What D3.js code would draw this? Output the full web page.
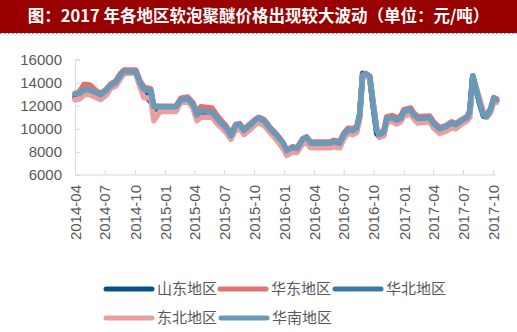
<!DOCTYPE html>
<html><head><meta charset="utf-8">
<script src="https://cdn.jsdelivr.net/npm/d3@7/dist/d3.min.js"></script>
<style>
html,body{margin:0;padding:0;background:#fff;}
svg{display:block;}
</style></head>
<body>
<svg id="chart" width="517" height="332"></svg>
<script>
const titleText = "图：2017 年各地区软泡聚醚价格出现较大波动（单位：元/吨）";
const dates = ["2014-04-01","2014-04-16","2014-04-29","2014-05-17","2014-06-04","2014-06-19","2014-07-05","2014-07-20","2014-08-04","2014-08-17","2014-08-29","2014-10-04","2014-10-17","2014-10-29","2014-11-19","2014-11-28","2014-12-17","2015-02-04","2015-02-19","2015-03-12","2015-03-28","2015-04-09","2015-04-21","2015-05-25","2015-06-15","2015-07-07","2015-07-22","2015-08-06","2015-08-18","2015-08-31","2015-09-18","2015-10-06","2015-10-16","2015-10-31","2015-11-18","2015-12-10","2015-12-28","2016-01-09","2016-01-27","2016-02-09","2016-02-27","2016-03-10","2016-03-22","2016-05-20","2016-06-01","2016-06-19","2016-07-01","2016-07-14","2016-07-29","2016-08-10","2016-08-19","2016-08-28","2016-09-07","2016-09-19","2016-09-28","2016-10-10","2016-10-19","2016-11-01","2016-11-10","2016-11-28","2016-12-10","2016-12-23","2017-01-01","2017-01-22","2017-01-31","2017-02-13","2017-03-21","2017-04-02","2017-04-21","2017-05-12","2017-05-27","2017-06-09","2017-06-27","2017-07-15","2017-07-22","2017-07-31","2017-08-12","2017-08-21","2017-09-02","2017-09-12","2017-09-24","2017-10-03","2017-10-12"];

const seriesNames = ["山东地区","华东地区","华北地区","东北地区","华南地区"];
const shandong = [12700,12850,13250,13200,13000,12750,13150,13650,13850,14500,14850,14850,13800,13100,12300,11700,11750,11750,12400,12500,11950,11050,11450,11300,10550,9950,9150,10150,10200,9700,10150,10650,10750,10550,9900,9200,8600,7900,8250,8150,8950,9100,8600,8650,8800,8650,9400,9800,9750,9950,11100,14800,14700,14400,12200,9600,9300,9500,10800,10850,10600,10800,11400,11550,11100,10800,10850,10350,9900,10100,10400,10250,10600,10900,11400,14500,13200,12200,11100,11000,11600,12500,12400];
const huadong = [12800,13300,13850,13800,13300,13050,13400,13900,14150,14750,15100,15100,14150,13600,13450,12000,11950,11950,12650,12750,12250,11450,11900,11800,10950,10250,9600,10400,10450,9950,10400,10850,11000,10800,10150,9500,8850,8150,8450,8350,9150,9300,8850,8850,9000,8900,9600,10050,10000,10200,11300,14700,14800,14550,12500,10000,9600,9850,11050,11150,10950,11100,11650,11800,11400,11050,11100,10600,10100,10300,10600,10450,10800,11100,11600,14600,13400,12400,11300,11200,11800,12700,12600];
const huabei = [13000,13050,13350,13300,13100,12900,13250,13750,13950,14550,14900,14900,13950,13350,13250,11850,11850,11850,12450,12550,12050,11150,11550,11350,10650,10050,9350,10250,10300,9800,10250,10750,10850,10650,10000,9350,8750,8050,8350,8250,9050,9200,8700,8700,8850,8700,9450,9850,9800,10000,11150,14550,14700,14450,12350,9850,9450,9650,10850,10900,10700,10850,11450,11600,11150,10850,10900,10400,9950,10150,10450,10300,10650,10950,11450,14550,13250,12250,11150,11050,11650,12550,12450];
const dongbei = [12500,12600,13000,12950,12700,12550,12900,13500,13700,14300,14800,14800,13600,12700,12650,10700,11500,11500,12300,12400,11800,10700,11000,11000,10300,9700,9100,9900,10000,9500,9900,10400,10500,10300,9700,9000,8300,7700,8000,7950,8700,8800,8350,8350,8450,8350,9100,9600,9500,9700,10800,14500,14700,14300,12600,10100,9300,9400,10600,10600,10400,10600,11100,11300,10900,10500,10600,10100,9600,9800,10100,10000,10400,10700,11000,14000,13400,12600,11400,11000,11400,12300,12300];
const huanan = [13050,13100,13400,13350,13150,12950,13300,13800,14000,14600,14950,14950,14000,13400,13300,11900,11900,11900,12500,12600,12100,11200,11600,11400,10700,10100,9400,10300,10350,9850,10300,10800,10900,10700,10050,9400,8800,8100,8400,8300,9100,9250,8750,8750,8900,8750,9500,9900,9850,10050,11200,14600,14750,14500,12400,9900,9500,9700,10900,10950,10750,10900,11500,11650,11200,10900,10950,10450,10000,10200,10500,10350,10700,11000,11500,14600,13300,12300,11200,11100,11700,12600,12500];
const seriesColors = ["#0b5283","#e07272","#3a7aa3","#eb9e9e","#6a9aba"];
const yTicks = [6000,8000,10000,12000,14000,16000];
const xTickLabels = ["2014-04","2014-07","2014-10","2015-01","2015-04","2015-07","2015-10","2016-01","2016-04","2016-07","2016-10","2017-01","2017-04","2017-07","2017-10"];

const parse = d3.timeParse("%Y-%m-%d");
const parseM = d3.timeParse("%Y-%m");
const seriesValues = [shandong, huadong, huabei, dongbei, huanan];
const series = seriesNames.map((n,i)=>({name:n,color:seriesColors[i],pts:dates.map((d,j)=>({d:parse(d),v:seriesValues[i][j]}))}));

const svg = d3.select("#chart");
// title bar
svg.append("rect").attr("x",0).attr("y",0).attr("width",517).attr("height",33).attr("fill","#990000");
svg.append("line").attr("x1",0).attr("x2",517).attr("y1",33.5).attr("y2",33.5)
  .attr("stroke","#9aa6d8").attr("stroke-width",1).attr("stroke-dasharray","2,2");
svg.append("text").attr("x",258.5).attr("y",22).attr("text-anchor","middle")
  .attr("fill","#fff").attr("font-family","'Noto Sans CJK SC',sans-serif")
  .attr("font-weight","bold").attr("font-size",16.5).text(titleText);

const x = d3.scaleTime().domain([parseM("2014-04"), parseM("2017-10")]).range([75,493]);
const y = d3.scaleLinear().domain([6000,16000]).range([175,59.5]);

const font = "'Liberation Sans',Arial,sans-serif";
// y axis
const gy = svg.append("g").attr("transform","translate(75,0)")
  .call(d3.axisLeft(y).tickValues(yTicks).tickSize(-5).tickPadding(13).tickFormat(d3.format("d")));
gy.select(".domain").attr("stroke","#d9d9d9");
gy.selectAll(".tick line").attr("stroke","#d9d9d9");
gy.selectAll("text").attr("font-family",font).attr("font-size",15).attr("fill","#595959");

// x axis
const gx = svg.append("g").attr("transform","translate(0,175)")
  .call(d3.axisBottom(x).tickValues(xTickLabels.map(parseM)).tickSize(-5).tickFormat(d3.timeFormat("%Y-%m")));
gx.select(".domain").attr("stroke","#d9d9d9").attr("d","M75,0H496");
gx.selectAll(".tick line").attr("stroke","#d9d9d9");
gx.selectAll("text").attr("font-family",font).attr("font-size",15).attr("fill","#595959")
  .attr("transform","rotate(-90)").attr("text-anchor","end").attr("x",-10).attr("y",0).attr("dy","0.35em");

// lines
const line = d3.line().x(p=>x(p.d)).y(p=>y(p.v)).curve(d3.curveLinear);
svg.append("g").selectAll("path").data(series).join("path")
  .attr("d",s=>line(s.pts)).attr("fill","none").attr("stroke",s=>s.color)
  .attr("stroke-width",5.5).attr("stroke-linejoin","round").attr("stroke-linecap","round");

// legend
const legPos = [[106,289],[220,289],[335,289],[106,318],[221,318]];
const leg = svg.append("g").selectAll("g").data(series).join("g")
  .attr("transform",(s,i)=>`translate(${legPos[i][0]},${legPos[i][1]})`);
leg.append("line").attr("x1",0).attr("x2",46).attr("y1",0).attr("y2",0)
  .attr("stroke",s=>s.color).attr("stroke-width",5).attr("stroke-linecap","round");
leg.append("text").attr("x",51).attr("y",0).attr("dy","0.35em")
  .attr("font-family","'Noto Sans CJK SC',sans-serif").attr("font-size",15).attr("fill","#595959")
  .text(s=>s.name);
</script>
</body></html>
